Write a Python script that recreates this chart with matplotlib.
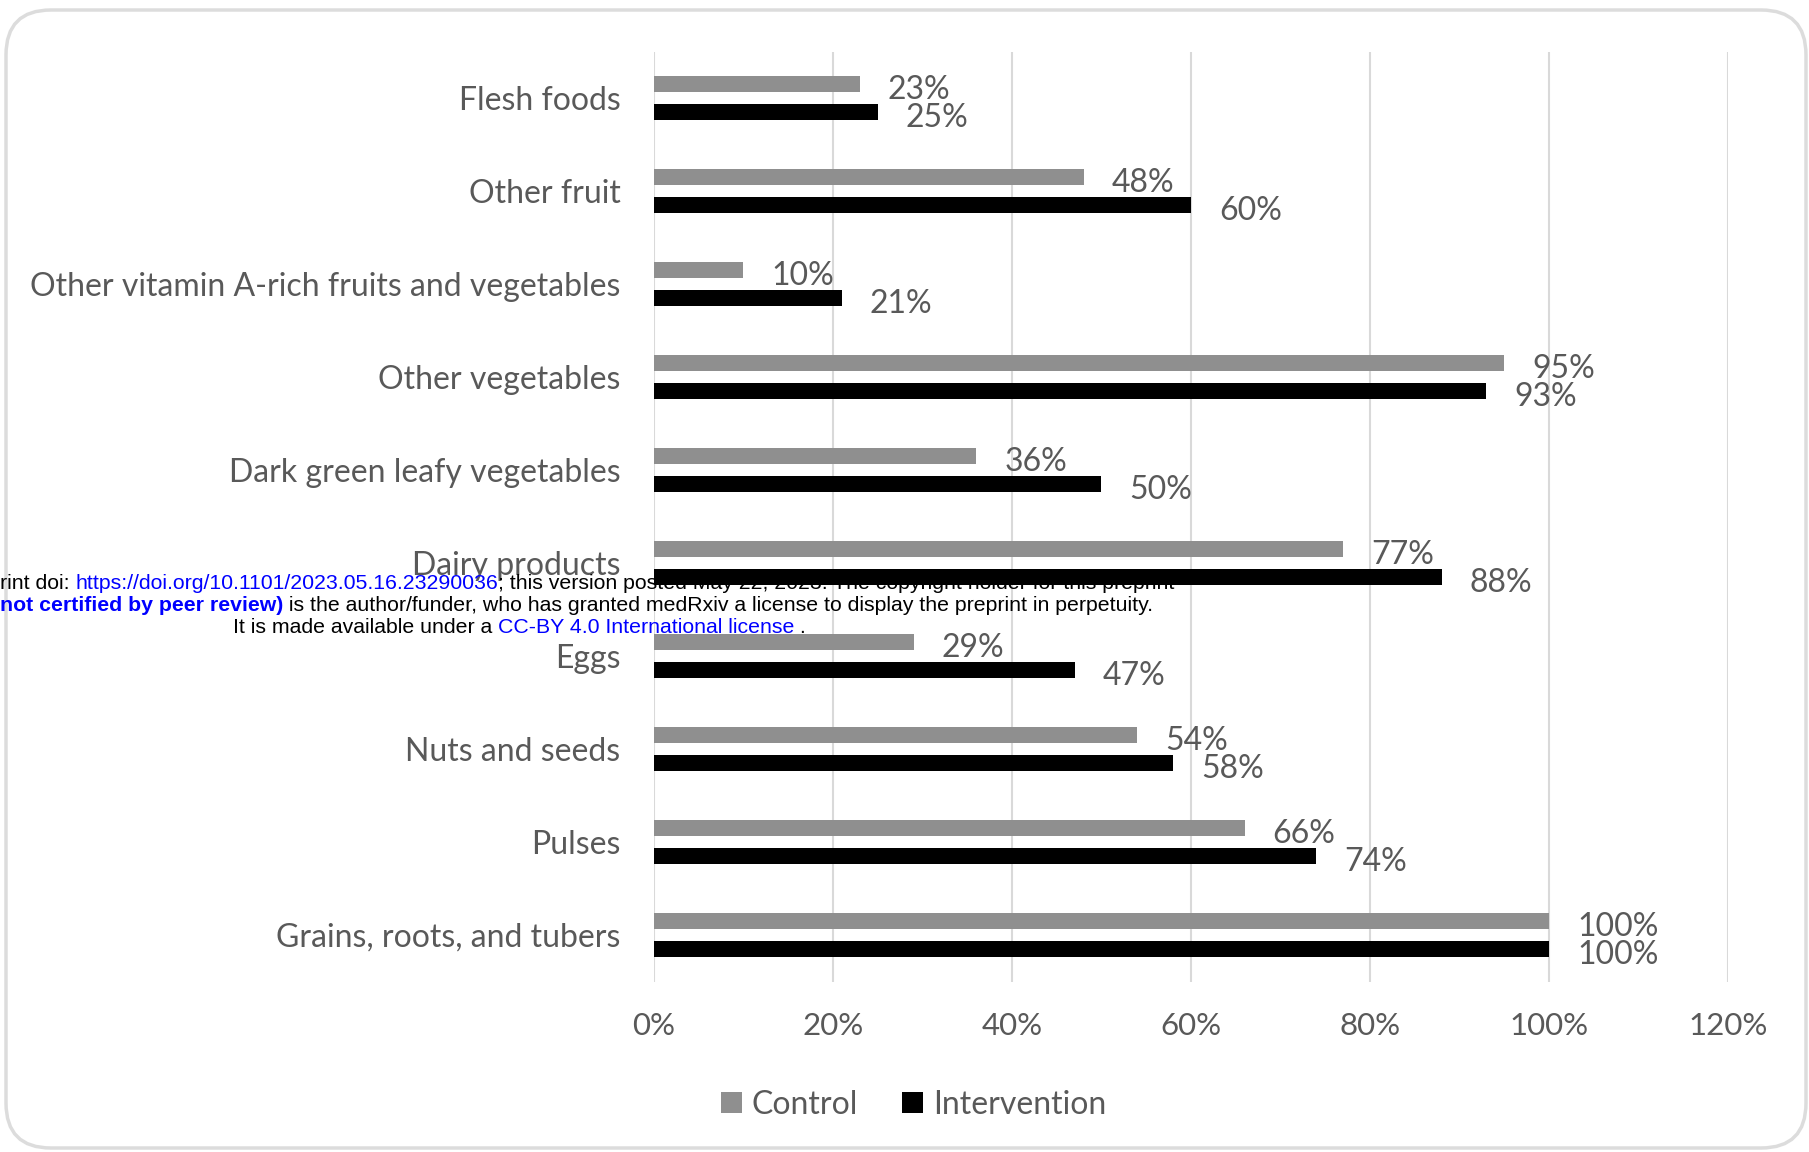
import matplotlib.pyplot as plt
import numpy as np
from matplotlib.patches import FancyBboxPatch
from matplotlib.transforms import IdentityTransform

categories = ['Flesh foods', 'Other fruit', 'Other vitamin A-rich fruits and vegetables',
              'Other vegetables', 'Dark green leafy vegetables', 'Dairy products',
              'Eggs', 'Nuts and seeds', 'Pulses', 'Grains, roots, and tubers']
control = [23, 48, 10, 95, 36, 77, 29, 54, 66, 100]
intervention = [25, 60, 21, 93, 50, 88, 47, 58, 74, 100]
xticks = [0, 20, 40, 60, 80, 100, 120]

txt = '#595959'
plt.rcParams['font.family'] = ['Lato', 'DejaVu Sans']

fig = plt.figure(figsize=(18.09, 11.52), dpi=100)
ax = fig.add_axes([0.3615, 0.148, 0.5937, 0.807])

y = np.arange(len(categories))
h = 0.17
ax.barh(y - 0.15, control, height=h, color='#8f8f8f', label='Control', zorder=3)
ax.barh(y + 0.15, intervention, height=h, color='black', label='Intervention', zorder=3)

for yi, c, t in zip(y, control, intervention):
    ax.annotate(f'{c}%', (c, yi - 0.15), xytext=(28, -6), textcoords='offset pixels',
                ha='left', va='center', fontsize=23, color=txt)
    ax.annotate(f'{t}%', (t, yi + 0.15), xytext=(28, -6), textcoords='offset pixels',
                ha='left', va='center', fontsize=23, color=txt)

ax.set_ylim(len(categories) - 0.5, -0.5)
ax.set_xlim(0, 120)
ax.set_yticks(y)
ax.set_yticklabels(categories, fontsize=23, color=txt)
ax.set_xticks(xticks)
ax.set_xticklabels([f'{v}%' for v in xticks], fontsize=22.5, color=txt)
ax.tick_params(axis='both', length=0)
ax.tick_params(axis='y', pad=24)
ax.tick_params(axis='x', pad=22)
ax.grid(axis='x', color='#d9d9d9', linewidth=1.5, zorder=0)
for s in ax.spines.values():
    s.set_visible(False)

fig.legend(loc='center', bbox_to_anchor=(0.505, 0.041), ncol=2, frameon=False,
           fontsize=23, labelcolor=txt, handlelength=0.65, handleheight=0.65,
           handletextpad=0.3, columnspacing=1.4)

# rounded frame around the chart
frame = FancyBboxPatch((6, 4), 1800, 1138, boxstyle='round,pad=0,rounding_size=45',
                       transform=IdentityTransform(), facecolor='none',
                       edgecolor='#dcdcdc', linewidth=2.5, zorder=0)
fig.patches.append(frame)


# medRxiv watermark, each line built from coloured pieces
def chain(pieces, x, yy):
    last = fig.text(x, yy, pieces[0][0], color=pieces[0][1], fontweight=pieces[0][2],
                    fontsize=15.3, family='Liberation Sans', ha='left', va='bottom')
    for s, col, wt in pieces[1:]:
        last = ax.annotate(s, xy=(1, 0), xycoords=last, color=col, fontweight=wt,
                           fontsize=15.3, family='Liberation Sans', ha='left', va='bottom',
                           annotation_clip=False)


chain([('rint doi: ', 'black', 'normal'),
       ('https://doi.org/10.1101/2023.05.16.23290036', 'blue', 'normal'),
       ('; this version posted May 22, 2023. The copyright holder for this preprint', 'black', 'normal')],
      0.0, 1 - 593 / 1152)
chain([('not certified by peer review)', 'blue', 'bold'),
       (' is the author/funder, who has granted medRxiv a license to display the preprint in perpetuity.', 'black', 'normal')],
      0.0, 1 - 615 / 1152)
chain([('It is made available under a ', 'black', 'normal'),
       ('CC-BY 4.0 International license', 'blue', 'normal'),
       (' .', 'black', 'normal')],
      233 / 1809, 1 - 637 / 1152)

fig.savefig('out.png', dpi=100)
